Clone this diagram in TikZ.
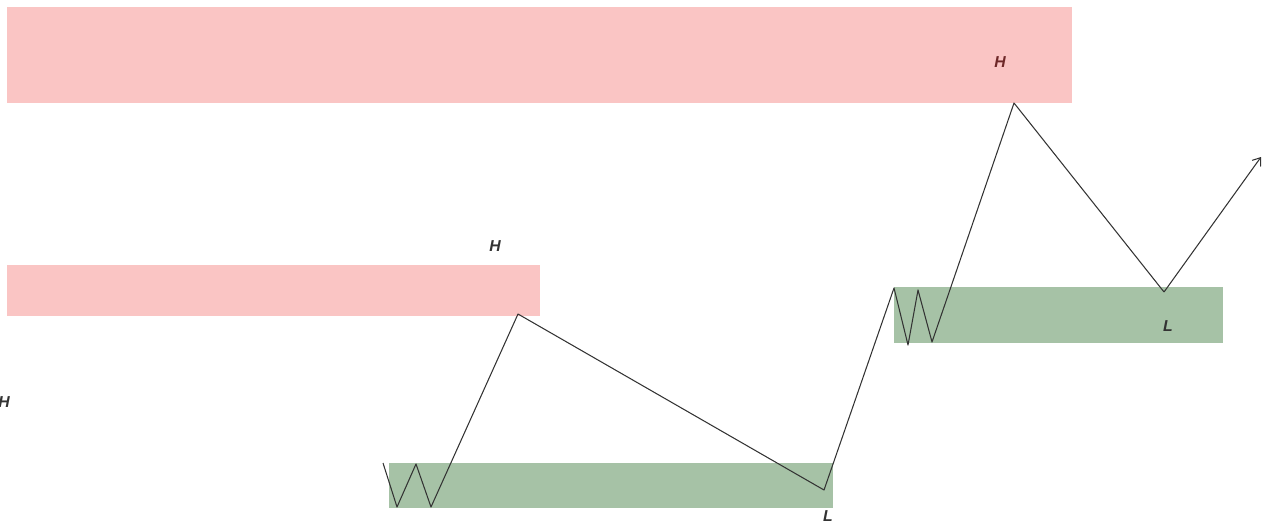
\documentclass[tikz,border=0pt]{standalone}
\usepackage{fontspec}
\setmainfont{Liberation Sans}
\usetikzlibrary{arrows.meta}
\definecolor{zonered}{RGB}{250,197,196}
\definecolor{zonegreen}{RGB}{166,194,166}
\definecolor{labelred}{RGB}{110,40,40}
\tikzset{lbl/.style={font=\itshape\bfseries\fontsize{9}{10}\selectfont,text=black!80}}

\begin{document}
\begin{tikzpicture}[x=0.02cm,y=-0.02cm]
      \useasboundingbox (0,0) rectangle (1266,524);
      \clip (0,0) rectangle (1266,524);
      % supply / demand zones
      \fill[zonered] (7,7) rectangle (1072,103);
      \fill[zonered] (7,265) rectangle (540,316);
      \fill[zonegreen] (389,463) rectangle (833,508);
      \fill[zonegreen] (894,287) rectangle (1223,343);
      % swing points
      \coordinate (s0) at (383,463);
      \coordinate (s1) at (397,507);
      \coordinate (s2) at (416,464);
      \coordinate (s3) at (431,507);
      \coordinate (h1) at (518,314);
      \coordinate (l1) at (824,490);
      \coordinate (s4) at (894,288);
      \coordinate (s5) at (908,345);
      \coordinate (s6) at (918,290);
      \coordinate (s7) at (932,342);
      \coordinate (h2) at (1014,103);
      \coordinate (l2) at (1164,292);
      \coordinate (tip) at (1261,157);
      \draw[black!80,line width=0.6pt,line join=round] (s0) -- (s1) -- (s2) -- (s3) -- (h1) -- (l1) -- (s4) -- (s5) -- (s6) -- (s7) -- (h2) -- (l2);
      \draw[-{Straight Barb[length=4pt,width=6pt]},black!80,line width=0.6pt] (l2) -- (tip);
      % labels
      \node[lbl] (H0) at (4,402) {H};
      \node[lbl] (H1) at (495,246) {H};
      \node[lbl,text=labelred] (H2) at (1000,62) {H};
      \node[lbl] (L1) at (828,516) {L};
      \node[lbl] (L2) at (1168,326) {L};
    \end{tikzpicture}
\end{document}
